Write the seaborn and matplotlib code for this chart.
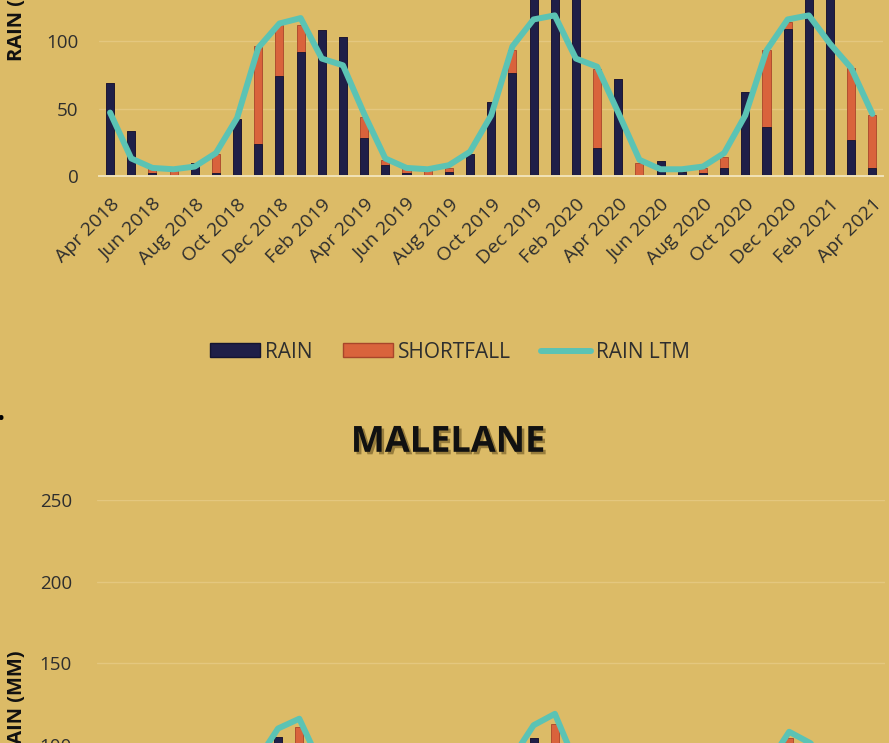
import numpy as np
import pandas as pd
import seaborn as sns
import matplotlib.pyplot as plt
import matplotlib.patheffects as pe
from matplotlib.patches import Rectangle
from matplotlib.lines import Line2D

# months shown on both charts
months = pd.date_range('2018-04-01', '2021-04-01', freq='MS').strftime('%b %Y').tolist()

# upper chart (title cut off in the screenshot)
top_rain = [69, 33, 2, 1, 10, 2, 42, 24, 74, 92, 108, 103, 28, 8, 2, 1, 3, 16, 55, 76,
            165, 210, 180, 21, 72, 0, 11, 3, 2, 6, 62, 36, 109, 195, 150, 27, 6]
top_shortfall = [0, 0, 4, 4, 0, 14, 0, 72, 38, 20, 0, 0, 16, 4, 4, 4, 3, 0, 0, 17,
                 0, 0, 0, 58, 0, 10, 0, 2, 4, 8, 0, 57, 5, 0, 0, 53, 39]
top_ltm = [47, 13, 6, 5, 7, 17, 43, 95, 113, 117, 87, 82, 46, 13, 6, 5, 8, 18, 45, 96,
           116, 119, 87, 81, 47, 12, 5, 5, 7, 17, 45, 93, 116, 119, 98, 80, 46]

# MALELANE (only the upper part is visible)
mal_rain = [55, 30, 4, 2, 8, 6, 40, 30, 105, 50, 95, 60, 20, 6, 2, 1, 4, 12, 35, 60,
            104, 40, 90, 25, 30, 2, 6, 2, 3, 8, 38, 40, 60, 70, 80, 30, 10]
mal_shortfall = [0, 0, 6, 5, 2, 12, 5, 55, 0, 61, 0, 15, 22, 8, 6, 5, 5, 8, 12, 35,
                 0, 73, 0, 48, 12, 10, 3, 4, 5, 10, 8, 50, 44, 25, 0, 40, 30]
mal_ltm = [44, 14, 7, 5, 8, 18, 42, 90, 110, 116, 88, 74, 42, 14, 7, 5, 8, 18, 44, 92,
           112, 119, 88, 72, 42, 13, 6, 5, 8, 18, 44, 88, 108, 101, 85, 70, 40]

BG = '#DCBB67'
NAVY = '#1F1F48'
RED = '#D9633C'
TEAL = '#5BC3B4'
GRID = '#E4C77F'
TXT = '#2E2E2E'

sns.set_theme(style='white')
plt.rcParams['font.family'] = ['Open Sans', 'DejaVu Sans']

fig = plt.figure(figsize=(8.89, 7.43), dpi=100, facecolor=BG)


def draw_chart(ax, rain, shortfall, ltm, show_xlabels):
    x = np.arange(len(months))
    total = np.array(rain) + np.array(shortfall)
    df = pd.DataFrame({'month': months, 'total': total, 'rain': rain})
    sns.barplot(data=df, x='month', y='total', color=RED, width=0.38,
                saturation=1, edgecolor='#A8452A', linewidth=0.6, ax=ax)
    sns.barplot(data=df, x='month', y='rain', color=NAVY, width=0.38,
                saturation=1, edgecolor='#141430', linewidth=0.6, ax=ax)
    sns.lineplot(x=x, y=ltm, color=TEAL, linewidth=4.3, ax=ax,
                 solid_joinstyle='round', solid_capstyle='round')
    ax.set_facecolor(BG)
    ax.set_xlim(-0.5, len(months) - 0.5)
    ax.set_ylim(0, 250)
    ax.set_yticks([0, 50, 100, 150, 200, 250])
    ax.yaxis.grid(True, color=GRID, linewidth=1.0)
    ax.set_axisbelow(True)
    for s in ['top', 'right', 'left']:
        ax.spines[s].set_visible(False)
    ax.spines['bottom'].set_color('#F1E3B8')
    ax.spines['bottom'].set_linewidth(1.4)
    ax.tick_params(axis='y', length=0, pad=15, labelsize=13.5, labelcolor=TXT)
    ax.tick_params(axis='x', length=0, pad=14)
    ax.set_xticks(x[::2])
    if show_xlabels:
        ax.set_xticklabels(months[::2], rotation=45, ha='right',
                           rotation_mode='anchor', fontsize=14, color=TXT)
    else:
        ax.set_xticklabels([])
    ax.set_xlabel('')
    ax.set_ylabel('RAIN (MM)', fontsize=14.5, fontweight='bold', color='#111111')


# upper chart, only its lower part is inside the picture
ax1 = fig.add_axes([0.1119, 0.7631, 0.8813, 0.4542])
draw_chart(ax1, top_rain, top_shortfall, top_ltm, True)
ax1.yaxis.set_label_coords(-0.0925, 0.5)

# MALELANE chart, only its upper part is inside the picture
ax2 = fig.add_axes([0.1091, -0.2221, 0.8864, 0.5491])
draw_chart(ax2, mal_rain, mal_shortfall, mal_ltm, False)
ax2.yaxis.set_label_coords(-0.089, 0.5)
ax2.tick_params(axis='y', pad=18)

fig.text(0.504, 0.404, 'MALELANE', ha='center', va='center', fontsize=26,
         fontweight='bold', color='#111111',
         path_effects=[pe.withSimplePatchShadow(offset=(1.8, -1.8),
                                                shadow_rgbFace='#6B5520', alpha=0.6)])

handles = [Rectangle((0, 0), 1, 1, facecolor=NAVY, edgecolor='#141430'),
           Rectangle((0, 0), 1, 1, facecolor=RED, edgecolor='#A8452A'),
           Line2D([], [], color=TEAL, linewidth=4.3, solid_capstyle='round')]
fig.legend(handles, ['RAIN', 'SHORTFALL', 'RAIN LTM'], loc='center',
           bbox_to_anchor=(0.506, 0.526), ncol=3, frameon=False, fontsize=15,
           labelcolor=TXT, handlelength=2.4, handleheight=0.65,
           handletextpad=0.25, columnspacing=1.45)

fig.text(-0.004, 0.435, '\u2022', fontsize=16, color='black', va='center')

fig.savefig('out.png', dpi=100, facecolor=BG)
